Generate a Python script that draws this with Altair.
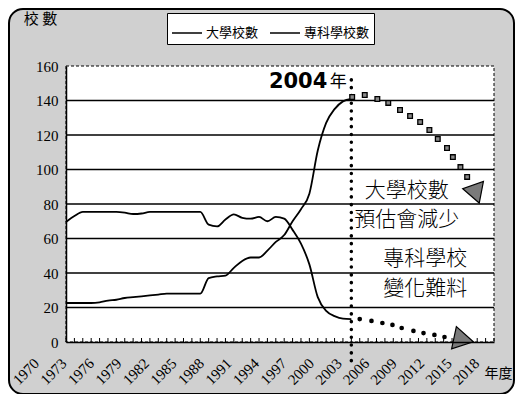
import altair as alt
import pandas as pd

# ---- data ----
years = list(range(1970, 2005))
univ = [22.6, 22.6, 22.6, 22.6, 23, 24, 24.5, 25.5, 26, 26.5,
        27, 27.5, 28, 28, 28, 28, 28, 37, 38, 38.5,
        43, 47, 49, 49, 53, 58, 62, 70, 77, 86,
        111, 127, 135, 139.5, 141]
junior = [69.6, 73, 75.4, 75.4, 75.4, 75.4, 75.4, 75, 74.2, 74.5,
          75.4, 75.4, 75.4, 75.4, 75.4, 75.4, 75.4, 68, 67, 71,
          74, 72, 71.5, 72.5, 70, 72.5, 71.5, 65, 57, 45,
          26, 18, 15, 13.5, 13.3]
series_names = ["大學校數", "專科學校數"]

label_years = list(range(1970, 2019, 3))
tick_years = list(range(1970, 2022))
grid_values = [20, 40, 60, 80, 100, 120, 140]
y_label_values = [0, 20, 40, 60, 80, 100, 120, 140, 160]

univ_proj_years = [2004.1, 2005.6, 2007.1, 2008.4, 2009.8, 2011.0, 2012.2,
                   2013.3, 2014.3, 2015.4, 2016.1, 2017.0, 2017.8]
univ_proj_vals = [142, 143.2, 140.9, 138.6, 134.5, 131, 127.5,
                  122.9, 117.7, 112.5, 107.2, 101.4, 95.7]
jc_proj_years = [2005.0, 2006.4, 2007.7, 2008.9, 2010.0, 2011.4, 2012.6, 2013.9, 2015.1]
jc_proj_vals = [13.3, 12.2, 11.0, 9.9, 8.1, 6.4, 5.2, 4.1, 2.9]

univ_arrow = {"year": 2018.75, "val": 87.5}
jc_arrow = {"year": 2017.0, "val": 1.7}

marker_year = 2004
marker_top = 152
marker_bottom = -14

note_texts = ["大學校數", "預估會減少", "專科學校", "變化難料"]
note_years = [2010.6, 2010.6, 2012.8, 2012.8]
note_vals = [87.5, 70.7, 48.0, 30.8]

# ---- tables ----
df_lines = pd.DataFrame({
    "year": years * 2,
    "value": univ + junior,
    "series": [series_names[0]] * len(years) + [series_names[1]] * len(years),
})
df_grid = pd.DataFrame({"value": grid_values})
df_ticks = pd.DataFrame({"year": tick_years})
df_labels = pd.DataFrame({"year": label_years})
df_up = pd.DataFrame({"year": univ_proj_years, "value": univ_proj_vals})
df_jp = pd.DataFrame({"year": jc_proj_years, "value": jc_proj_vals})
df_marker = pd.DataFrame({"year": [marker_year], "value": [marker_top], "bottom": [marker_bottom]})
df_notes = pd.DataFrame({"text": note_texts, "year": note_years, "value": note_vals})
df_label2004 = pd.DataFrame({"year": [marker_year], "value": [150.7]})
df_a1 = pd.DataFrame({"year": [univ_arrow["year"]], "value": [univ_arrow["val"]]})
df_a2 = pd.DataFrame({"year": [jc_arrow["year"]], "value": [jc_arrow["val"]]})
one = pd.DataFrame({"a": [0]})

W, H = 428, 276
xs = alt.Scale(domain=[1970, 2021], nice=False, zero=False)
ys = alt.Scale(domain=[0, 160], nice=False, zero=True)

CJK = "Noto Sans CJK TC"
SERIF = "Liberation Serif"

AX = alt.Axis(values=label_years, labels=False, ticks=False, grid=False,
              domainColor="black", domainWidth=1.5, zindex=1,
              title="年度", titleFont=CJK, titleFontSize=14, titleFontWeight="normal",
              titleColor="black", titleX=432, titleY=31, titleAlign="center",
              titleBaseline="middle", titleAngle=0)
AY = alt.Axis(values=y_label_values, labelFont=SERIF, labelFontSize=15,
              labelColor="black", labelPadding=8, ticks=False, grid=False,
              domainColor="black", domainWidth=1.5, zindex=1,
              labelOverlap=False, labelFlush=False,
              title="校 數", titleFont=CJK, titleFontSize=15, titleFontWeight="normal",
              titleColor="black", titleX=-26, titleY=-48, titleAlign="center",
              titleBaseline="middle", titleAngle=0)


def X(field="year:Q"):
    return alt.X(field, scale=xs, axis=AX)


def Y():
    return alt.Y("value:Q", scale=ys, axis=AY)


frame = alt.Chart(one).mark_rect(
    cornerRadius=14, fill="#d0d0d0", stroke="black", strokeWidth=2
).encode(x=alt.value(-57), x2=alt.value(448), y=alt.value(-57), y2=alt.value(328))

plotbg = alt.Chart(one).mark_rect(
    fill="white", stroke="black", strokeDash=[3, 2], strokeWidth=1
).encode(x=alt.value(0), x2=alt.value(W), y=alt.value(0), y2=alt.value(H))

grid = alt.Chart(df_grid).mark_rule(color="black", strokeWidth=1.3).encode(
    y=Y(), x=alt.value(0), x2=alt.value(W)
)

ticks = alt.Chart(df_ticks).mark_rule(color="black", strokeWidth=1).encode(
    x=X(), y=alt.value(H - 4), y2=alt.value(H)
)

# the scanned chart's rotated year labels run on a slightly wider spacing than its ticks
xlabels = alt.Chart(df_labels).transform_calculate(
    pos="datum.year - 3.5 + 0.09235 * (datum.year - 1970)",
    txt="'' + datum.year",
).mark_text(
    font=SERIF, fontSize=15, color="black", angle=315, align="right", baseline="middle"
).encode(x=X("pos:Q"), y=alt.value(H + 19), text="txt:N")

lines = alt.Chart(df_lines).mark_line(strokeWidth=1.8, interpolate="monotone").encode(
    x=X(), y=Y(),
    color=alt.Color("series:N",
                    scale=alt.Scale(domain=series_names, range=["black", "black"]),
                    legend=alt.Legend(orient="none", legendX=101, legendY=-53,
                                      direction="horizontal", title=None,
                                      fillColor="white", strokeColor="black",
                                      padding=4, symbolType="stroke", symbolSize=900,
                                      symbolStrokeWidth=1.5, labelFont=CJK,
                                      labelFontSize=13, labelColor="black",
                                      columnPadding=8, labelOffset=3)),
)

marker = alt.Chart(df_marker).mark_rule(
    color="black", strokeDash=[0.1, 7.7], strokeCap="round", strokeWidth=3.5
).encode(x=X(), y=Y(), y2="bottom:Q")

up = alt.Chart(df_up).mark_square(size=22, fill="#8a8a8a", stroke="black",
                                  strokeWidth=1.3, opacity=1).encode(x=X(), y=Y())
jp = alt.Chart(df_jp).mark_circle(size=22, color="black", opacity=1).encode(x=X(), y=Y())

arrow1 = alt.Chart(df_a1).mark_point(
    shape="triangle", filled=True, fill="#7a7a7a", stroke="black", strokeWidth=1.2,
    size=480, angle=161, opacity=1
).encode(x=X(), y=Y())
arrow2 = alt.Chart(df_a2).mark_point(
    shape="triangle", filled=True, fill="#7a7a7a", stroke="black", strokeWidth=1.2,
    size=520, angle=102, opacity=1
).encode(x=X(), y=Y())

notes = alt.Chart(df_notes).mark_text(
    font=CJK, fontSize=21, color="black", align="center", baseline="middle", fontWeight=300
).encode(x=X(), y=Y(), text="text:N")

t2004 = alt.Chart(df_label2004).mark_text(
    font="DejaVu Sans", fontSize=21, fontWeight="bold", color="black",
    align="right", baseline="middle", dx=-24
).encode(x=X(), y=Y(), text=alt.value("2004"))
tnian = alt.Chart(df_label2004).mark_text(
    font=CJK, fontSize=17, color="black", align="center", baseline="middle", dx=-13
).encode(x=X(), y=Y(), text=alt.value("年"))

chart = alt.layer(
    frame, plotbg, grid, ticks, xlabels, lines, marker, up, jp, arrow1, arrow2,
    notes, t2004, tnian
).properties(
    width=W, height=H,
    autosize=alt.AutoSizeParams(type="none"),
    padding={"left": 58, "top": 58, "right": 21, "bottom": 52},
    background="white",
).configure_view(stroke=None)

chart.save("out.html", embed_options={"renderer": "svg", "actions": False})
